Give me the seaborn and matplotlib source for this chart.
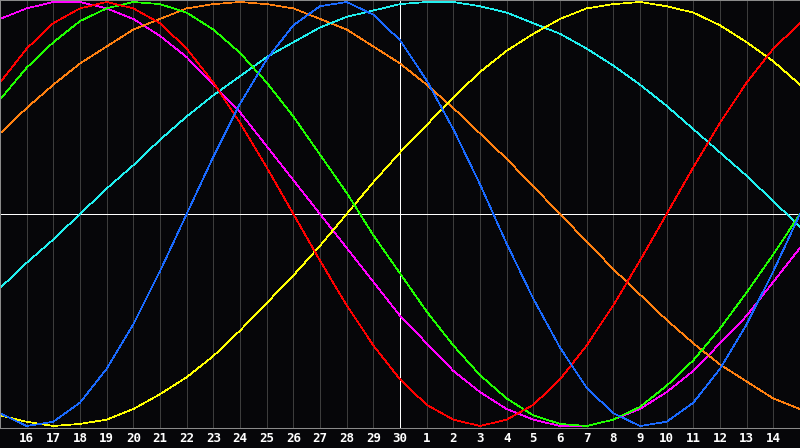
import matplotlib
matplotlib.use("Agg")
import matplotlib.pyplot as plt
import seaborn as sns
import pandas as pd

# day labels along the bottom (index 0 and 30 are the unlabeled edges, day 15)
day_labels = ["16", "17", "18", "19", "20", "21", "22", "23", "24", "25", "26", "27",
              "28", "29", "30", "1", "2", "3", "4", "5", "6", "7", "8", "9", "10",
              "11", "12", "13", "14"]
today_index = 15

# cycle values read per day (index 0..30)
physical = [-0.94, -1.00, -0.98, -0.89, -0.73, -0.52, -0.27, 0.00, 0.27, 0.52, 0.73,
            0.89, 0.98, 1.00, 0.94, 0.82, 0.63, 0.40, 0.14, -0.14, -0.40, -0.63, -0.82,
            -0.94, -1.00, -0.98, -0.89, -0.73, -0.52, -0.27, 0.00]
emotional = [0.62, 0.78, 0.90, 0.97, 1.00, 0.97, 0.90, 0.78, 0.62, 0.43, 0.22, 0.00,
             -0.22, -0.43, -0.62, -0.78, -0.90, -0.97, -1.00, -0.97, -0.90, -0.78, -0.62,
             -0.43, -0.22, 0.00, 0.22, 0.43, 0.62, 0.78, 0.90]
intellectual = [0.54, 0.69, 0.81, 0.91, 0.97, 1.00, 0.99, 0.95, 0.87, 0.76, 0.62, 0.46,
                0.28, 0.10, -0.10, -0.28, -0.46, -0.62, -0.76, -0.87, -0.95, -0.99, -1.00,
                -0.97, -0.91, -0.81, -0.69, -0.54, -0.37, -0.19, 0.00]
intuitive = [0.92, 0.97, 1.00, 1.00, 0.97, 0.92, 0.84, 0.74, 0.61, 0.48, 0.32, 0.16,
             0.00, -0.16, -0.32, -0.48, -0.61, -0.74, -0.84, -0.92, -0.97, -1.00, -1.00,
             -0.97, -0.92, -0.84, -0.74, -0.61, -0.48, -0.32, -0.16]
aesthetic = [-0.95, -0.98, -1.00, -0.99, -0.97, -0.92, -0.85, -0.77, -0.67, -0.55, -0.42,
             -0.29, -0.15, 0.00, 0.15, 0.29, 0.42, 0.55, 0.67, 0.77, 0.85, 0.92, 0.97,
             0.99, 1.00, 0.98, 0.95, 0.89, 0.81, 0.72, 0.61]
awareness = [0.38, 0.50, 0.61, 0.71, 0.79, 0.87, 0.92, 0.97, 0.99, 1.00, 0.99, 0.97,
             0.92, 0.87, 0.79, 0.71, 0.61, 0.50, 0.38, 0.26, 0.13, 0.00, -0.13, -0.26,
             -0.38, -0.50, -0.61, -0.71, -0.79, -0.87, -0.92]
spiritual = [-0.35, -0.23, -0.12, 0.00, 0.12, 0.23, 0.35, 0.46, 0.56, 0.65, 0.74, 0.81,
             0.88, 0.93, 0.96, 0.99, 1.00, 1.00, 0.98, 0.95, 0.90, 0.85, 0.78, 0.70,
             0.61, 0.51, 0.40, 0.29, 0.18, 0.06, -0.06]

cycles = {
    "intuitive": intuitive,
    "awareness": awareness,
    "spiritual": spiritual,
    "aesthetic": aesthetic,
    "intellectual": intellectual,
    "emotional": emotional,
    "physical": physical,
}
colors = {
    "physical": "#1a6aff",
    "emotional": "#ff0000",
    "intellectual": "#20ff00",
    "intuitive": "#ff00ff",
    "aesthetic": "#ffff00",
    "awareness": "#ff8010",
    "spiritual": "#20f0f0",
}

rows = []
for name, vals in cycles.items():
    for i, v in enumerate(vals):
        rows.append({"day": i, "value": v, "cycle": name})
df = pd.DataFrame(rows)

bg = "#060609"
plt.rcParams["lines.antialiased"] = False

fig = plt.figure(figsize=(8, 4.48), dpi=100, facecolor=bg)
ax = fig.add_axes([0, 20 / 448, 1, 428 / 448])
ax.set_facecolor(bg)

ax.set_xticks(range(1, 30))
ax.xaxis.grid(True, color="#3c3c3c", linewidth=0.5)
ax.yaxis.grid(False)
ax.set_axisbelow(True)
ax.axvline(today_index, color="white", linewidth=0.5, zorder=1)
ax.axhline(0, color="white", linewidth=0.5, zorder=1)

sns.lineplot(data=df, x="day", y="value", hue="cycle", palette=colors,
             linewidth=0.5, legend=False, ax=ax, zorder=2)

ax.set_xlim(0, 30)
ax.set_ylim(-214 / 212, 214 / 212)
ax.set_yticks([])
ax.set_xticklabels(day_labels, color="white", fontsize=9, fontweight="bold",
                   family="DejaVu Sans Mono")
ax.tick_params(axis="x", length=0, pad=3)
ax.set_xlabel("")
ax.set_ylabel("")

for side in ["top", "left", "bottom"]:
    ax.spines[side].set_color("#8a8a8a")
    ax.spines[side].set_linewidth(0.75)
ax.spines["right"].set_visible(False)

fig.savefig("out.png", dpi=100, facecolor=bg)
